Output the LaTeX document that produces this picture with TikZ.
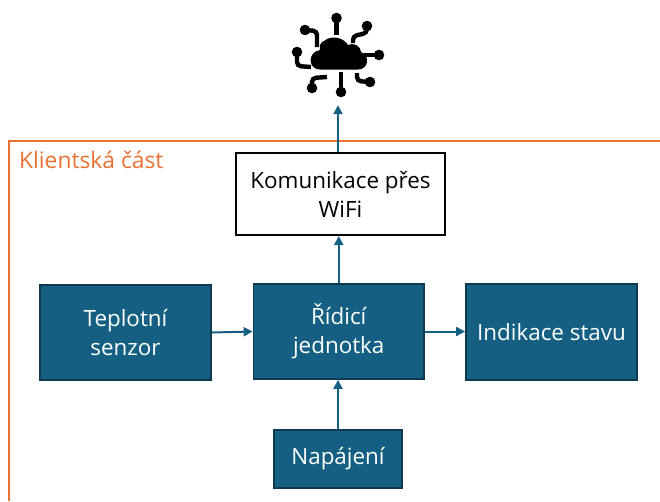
\documentclass[tikz,border=0pt]{standalone}
\usepackage{fontspec}
\setmainfont{Open Sans}
\usetikzlibrary{arrows.meta}
\definecolor{blok}{HTML}{156082}
\definecolor{okraj}{HTML}{0C3A50}
\definecolor{oranz}{HTML}{E97132}
\tikzset{
  x=1pt,y=-1pt,
  blok/.style={draw=okraj,line width=1.8pt,fill=blok,text=white,inner sep=0pt,align=center,font=\fontsize{22.4}{29}\selectfont},
  bily/.style={draw=black,line width=2pt,fill=white,text=black,inner sep=0pt,align=center,font=\fontsize{22.4}{29}\selectfont},
  sipka/.style={draw=blok,line width=2pt,-{Triangle[length=9pt,width=9pt]}},
  spoj/.style={line width=4.4pt,line cap=butt,rounded corners=4pt},
  tecka/.style={fill=black,draw=none}
}
\newcommand{\krabice}[7]{\node[#1,minimum width=#4 pt - #3 pt,minimum height=#6 pt - #5 pt] (#2) at ({(#3+#4)/2},{(#5+#6)/2}) {#7};}
\begin{document}
\begin{tikzpicture}
\useasboundingbox (0,0) rectangle (660,501);
\draw[oranz,line width=2.7pt] (660,141) -- (9,141) -- (9,501);
\node[text=oranz,anchor=west,inner sep=0pt,font=\fontsize{22.8}{26}\selectfont] (klient) at (19,160) {Klientská část};
\krabice{bily}{wifi}{236}{445}{153}{235}{Komunikace přes\\WiFi}
\krabice{blok}{senzor}{40}{211}{285}{380}{Teplotní\\senzor}
\krabice{blok}{ridici}{253.5}{424}{284}{379}{Řídicí\\jednotka}
\krabice{blok}{indikace}{466}{637}{284}{380}{Indikace stavu}
\krabice{blok}{napajeni}{274}{402}{430}{488}{Napájení}
\node[minimum width=92pt,minimum height=92pt,inner sep=0pt] (ikona) at (338,59) {};
% cloud icon
\fill (320,69.5) .. controls (308,69.5) and (307,52) .. (320,50)
  .. controls (319,45) and (321,42) .. (324,41)
  .. controls (331,35) and (343,37) .. (348,45)
  .. controls (353,42) and (361,46) .. (361,52)
  .. controls (370,55) and (369,69.5) .. (358,69.5) -- cycle;
\begin{scope}[spoj]
\draw (336.5,18) -- (336.5,35);
\draw (367,26) -- (367,33) -- (353,36) -- (353,43);
\draw (305,30) -- (317,31) -- (317,47);
\draw (297,52) -- (297,66) -- (311,67);
\draw (364,55) -- (379,55);
\draw (312,88) -- (312,78) -- (327,77);
\draw (341,92) -- (341,72);
\draw (370,82) -- (357,81) -- (357,73);
\end{scope}
\foreach \p/\q in {336.5/18,367/26,305/30,297/52,379/55,312/88,341/92,370/82}
  \fill[tecka] (\p,\q) circle[radius=5.3pt];
\draw[sipka] ([xshift=-2.5pt]wifi.north) -- ([xshift=-2.5pt]wifi.north |- ikona.south);
\draw[sipka] (ridici.north) -- (ridici.north |- wifi.south);
\draw[sipka] (senzor.east) -- (ridici.west);
\draw[sipka] (ridici.east) -- (indikace.west |- ridici.east);
\draw[sipka] (napajeni.north) -- (ridici.south -| napajeni.north);
\end{tikzpicture}
\end{document}
